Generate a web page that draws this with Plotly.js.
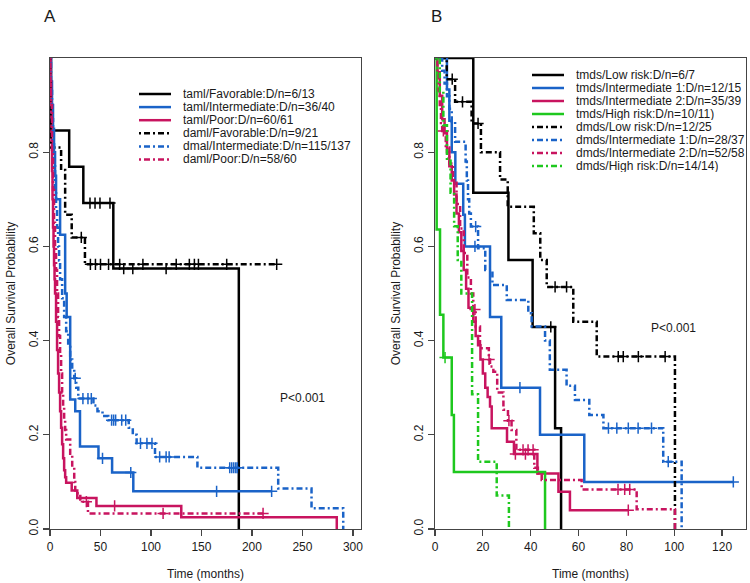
<!DOCTYPE html>
<html><head><meta charset="utf-8">
<script src="https://cdn.plot.ly/plotly-3.0.1.min.js"></script>
<style>html,body{margin:0;padding:0;background:#fff}#chart{width:750px;height:583px}</style>
</head><body><div id="chart"></div>
<script>
// ---------- Panel A data ----------
const namesA = ["taml/Favorable:D/n=6/13","taml/Intermediate:D/n=36/40","taml/Poor:D/n=60/61",
  "daml/Favorable:D/n=9/21","dmal/Intermediate:D/n=115/137","daml/Poor:D/n=58/60"];

const tamlFavT = [0, 1, 19, 33, 62.7, 187];
const tamlFavS = [1, 0.846, 0.769, 0.692, 0.553, 0];
const tamlFavC = [39.6, 44.6, 49.5, 59.4, 73, 82, 115];

const tamlIntT = [0,1,2,3,4,5,6,10,15,16.5,20,25,29.7,48,61.5,82.5,219.5];
const tamlIntS = [1,0.95,0.9,0.85,0.8,0.75,0.7,0.625,0.5,0.45,0.275,0.25,0.175,0.15,0.12,0.08,0.08];
const tamlIntC = [52, 80, 165, 219.5];

const tamlPoorT = [0,0.5,1,1.5,2,2.5,3,3.5,4,4.5,5,6,7,8,9,10,11,12,13,14,15,16,21.5,27,46,130,284];
const tamlPoorS = [1,0.95,0.88,0.82,0.76,0.7,0.64,0.6,0.56,0.53,0.5,0.44,0.38,0.33,0.29,0.25,0.215,0.18,0.15,0.125,0.11,0.098,0.082,0.066,0.049,0.025,0];
const tamlPoorC = [64];

const damlFavT = [0,0.5,11,15,21.5,34.6,224.5];
const damlFavS = [1,0.81,0.762,0.667,0.619,0.562,0.562];
const damlFavC = [31,40,45,50,58,69,92,125,138,143,147,175,224.5];

const dmalIntT = [0,1,2,3,4,5,6,7,8,9,10,12,14,16,18,20,22,24,26,28,43,47,52,57.7,78,82,85.8,104,146,226,259,290.4];
const dmalIntS = [1,0.93,0.87,0.82,0.77,0.72,0.68,0.64,0.6,0.57,0.53,0.49,0.45,0.42,0.39,0.36,0.34,0.32,0.30,0.277,0.262,0.25,0.24,0.231,0.215,0.2,0.182,0.153,0.13,0.086,0.044,0];
const dmalIntC = [25,32.6,37.6,40.9,61,63,65,71,75,89.6,96,101,108.6,115,118,178,180,182,184,185.5];

const damlPoorT = [0,0.5,1,2,3,4,5,6,7,8,9,10,11,12,13,14,15,16,20,22,24,25,30,37.6,211];
const damlPoorS = [1,0.95,0.9,0.8,0.72,0.65,0.6,0.55,0.5,0.45,0.41,0.37,0.33,0.29,0.26,0.23,0.21,0.19,0.16,0.13,0.1,0.076,0.058,0.033,0.033];
const damlPoorC = [36, 112, 211];

// ---------- Panel B data ----------
const namesB = ["tmds/Low risk:D/n=6/7","tmds/Intermediate 1:D/n=12/15","tmds/Intermediate 2:D/n=35/39",
  "tmds/High risk:D/n=10/11)","dmds/Low risk:D/n=12/25","dmds/Intermediate 1:D/n=28/37",
  "dmds/Intermediate 2:D/n=52/58","dmds/High risk:D/n=14/14)"];

const tmdsLowT = [0,16,30.7,40.8,50.2,52.7];
const tmdsLowS = [1,0.714,0.571,0.429,0.214,0];
const tmdsLowC = [48.4];

const tmdsInt1T = [0,5,6,7,8.5,11.8,12.5,23,27.7,43.9,62.4,124.7];
const tmdsInt1S = [1,0.933,0.867,0.8,0.733,0.667,0.6,0.45,0.30,0.20,0.10,0.10];
const tmdsInt1C = [16.7, 35.5, 124.7];

const tmdsInt2T = [0,1,2,3,4,5,6,7,8,9,10,11,12,13,14,16,17,18,19,20,21,22,23,23.7,30.1,33,42.8,51.6,56.4,80.8];
const tmdsInt2S = [1,0.97,0.92,0.87,0.84,0.80,0.77,0.74,0.71,0.67,0.63,0.59,0.55,0.51,0.47,0.44,0.41,0.39,0.36,0.33,0.30,0.28,0.26,0.214,0.185,0.159,0.118,0.079,0.04,0.04];
const tmdsInt2C = [33.6, 37.8, 80.8];

const tmdsHighT = [0,0.7,2.1,3.5,7,7.9,46];
const tmdsHighS = [1,0.636,0.455,0.364,0.242,0.121,0];
const tmdsHighC = [4.2];

const dmdsLowT = [0,4.9,8.4,15.3,19.2,27.2,30.4,41.3,44,46.7,57.8,67.6,100.3];
const dmdsLowS = [1,0.955,0.907,0.861,0.8,0.742,0.684,0.628,0.571,0.514,0.44,0.366,0];
const dmdsLowC = [7.2, 11.5, 18, 50.2, 55, 76.6, 78.7, 85, 96.2];

const dmdsInt1T = [0,3,4,5,6,7,8.4,12.8,13.3,13.8,14.3,15,18,21,24,30,39,40.4,46,48,55,58.5,64.5,70.4,95.4,103.1];
const dmdsInt1S = [1,0.973,0.946,0.919,0.892,0.865,0.822,0.78,0.74,0.70,0.67,0.642,0.596,0.55,0.518,0.486,0.458,0.43,0.40,0.338,0.304,0.274,0.242,0.214,0.143,0];
const dmdsInt1C = [17, 72.5, 76, 80.8, 84.9, 90.5, 97.5];

const dmdsInt2T = [0,1,1.5,2,2.5,3,4.5,6,7.5,9,10.5,12,13.5,15,16,17,18.8,22.5,23,24.4,26,28.6,30.5,32,34,41.5,43,44.6,61.3,84.3,100.3];
const dmdsInt2S = [1,0.966,0.931,0.897,0.862,0.845,0.81,0.776,0.741,0.69,0.638,0.586,0.534,0.5,0.466,0.43,0.384,0.36,0.345,0.334,0.29,0.253,0.23,0.21,0.168,0.13,0.118,0.104,0.084,0.042,0];
const dmdsInt2C = [3.5, 16.7, 22.6, 30.9, 36.8, 38.9, 41, 76.5, 79.3, 81.4];

const dmdsHighT = [0,2,3.5,5,6.5,8,9.5,11,15.5,18,25.8,30.9];
const dmdsHighS = [1,0.929,0.857,0.786,0.714,0.643,0.571,0.5,0.286,0.143,0.071,0];
const dmdsHighC = [];

// tick labels
const xTicksA = [0,50,100,150,200,250,300];
const xTicksB = [0,20,40,60,80,100,120];
const yTicks = [0,0.2,0.4,0.6,0.8];
const yTickText = ["0.0","0.2","0.4","0.6","0.8"];

// ---------- styles ----------
const BLACK = "#000000", BLUE = "#1a63c8", RED = "#c8145f", GREEN = "#1ec81e";
const DASH = "2px,3px,6px,3px";

const curvesA = [
  {t: tamlFavT, s: tamlFavS, c: tamlFavC, col: BLACK, dash: "solid"},
  {t: tamlIntT, s: tamlIntS, c: tamlIntC, col: BLUE, dash: "solid"},
  {t: tamlPoorT, s: tamlPoorS, c: tamlPoorC, col: RED, dash: "solid"},
  {t: damlFavT, s: damlFavS, c: damlFavC, col: BLACK, dash: DASH},
  {t: dmalIntT, s: dmalIntS, c: dmalIntC, col: BLUE, dash: DASH},
  {t: damlPoorT, s: damlPoorS, c: damlPoorC, col: RED, dash: DASH}
];
const curvesB = [
  {t: tmdsLowT, s: tmdsLowS, c: tmdsLowC, col: BLACK, dash: "solid"},
  {t: tmdsInt1T, s: tmdsInt1S, c: tmdsInt1C, col: BLUE, dash: "solid"},
  {t: tmdsInt2T, s: tmdsInt2S, c: tmdsInt2C, col: RED, dash: "solid"},
  {t: tmdsHighT, s: tmdsHighS, c: tmdsHighC, col: GREEN, dash: "solid"},
  {t: dmdsLowT, s: dmdsLowS, c: dmdsLowC, col: BLACK, dash: DASH},
  {t: dmdsInt1T, s: dmdsInt1S, c: dmdsInt1C, col: BLUE, dash: DASH},
  {t: dmdsInt2T, s: dmdsInt2S, c: dmdsInt2C, col: RED, dash: DASH},
  {t: dmdsHighT, s: dmdsHighS, c: dmdsHighC, col: GREEN, dash: DASH}
];

function survAt(T, S, t) {
  let v = 1;
  for (let i = 0; i < T.length; i++) { if (T[i] <= t) v = S[i]; }
  return v;
}

const traces = [];
function addCurves(curves, names, xa, ya) {
  curves.forEach((cv, i) => {
    traces.push({
      type: "scatter", mode: "lines", x: cv.t, y: cv.s, name: names[i],
      xaxis: xa, yaxis: ya, showlegend: false, hoverinfo: "skip",
      line: {shape: "hv", color: cv.col, width: 2.5, dash: cv.dash}
    });
    if (cv.c.length) {
      traces.push({
        type: "scatter", mode: "markers", x: cv.c, y: cv.c.map(t => survAt(cv.t, cv.s, t)),
        xaxis: xa, yaxis: ya, showlegend: false, hoverinfo: "skip",
        marker: {symbol: "cross-thin", size: 8, color: cv.col, line: {color: cv.col, width: 1.5}}
      });
    }
  });
}
addCurves(curvesA, namesA, "x", "y");
addCurves(curvesB, namesB, "x2", "y2");

// ---------- layout ----------
const W = 750, TOP = 58, BOT = 529;
const px = v => v / W;
const py = v => (BOT - v) / (BOT - TOP);
const FONT = "Liberation Sans, Arial, sans-serif";
const TXT = "#1a1a1a";

const shapes = [], annotations = [];
function addLegend(curves, names, x0, x1, xText, y0, step) {
  curves.forEach((cv, i) => {
    const y = y0 + i * step;
    shapes.push({type: "line", xref: "paper", yref: "paper", x0: px(x0), x1: px(x1), y0: py(y), y1: py(y),
      line: {color: cv.col, width: 2.5, dash: cv.dash}});
    annotations.push({xref: "paper", yref: "paper", x: px(xText), y: py(y), text: names[i],
      showarrow: false, xanchor: "left", yanchor: "middle", height: 12, borderpad: 0,
      font: {size: 12, color: TXT}});
  });
}
addLegend(curvesA, namesA, 139, 171, 182, 94, 13.1);
addLegend(curvesB, namesB, 532, 564, 575, 75, 13.0);

annotations.push({xref: "x", yref: "y", x: 250, y: 0.278, text: "P<0.001", showarrow: false,
  xanchor: "center", yanchor: "middle", font: {size: 12, color: TXT}});
annotations.push({xref: "x2", yref: "y2", x: 99.6, y: 0.426, text: "P<0.001", showarrow: false,
  xanchor: "center", yanchor: "middle", font: {size: 12, color: TXT}});
annotations.push({xref: "paper", yref: "paper", x: px(50), y: py(16), text: "A", showarrow: false,
  xanchor: "center", yanchor: "middle", font: {size: 17, color: TXT}});
annotations.push({xref: "paper", yref: "paper", x: px(436), y: py(16), text: "B", showarrow: false,
  xanchor: "center", yanchor: "middle", font: {size: 17, color: TXT}});

function xAxis(domain, range, ticks, anchor) {
  return {domain: domain, range: range, anchor: anchor, tickvals: ticks, ticktext: ticks.map(String),
    showline: true, mirror: true, linecolor: "#444", linewidth: 1.3, ticks: "outside", ticklen: 6,
    tickcolor: "#444", tickwidth: 1.2, showgrid: false, zeroline: false, fixedrange: true,
    tickfont: {size: 12, color: TXT},
    title: {text: "Time (months)", font: {size: 12, color: TXT}, standoff: 17}};
}
function yAxis(anchor) {
  return {domain: [0, 1], range: [0, 1], anchor: anchor, tickvals: yTicks, ticktext: yTickText,
    tickangle: -90, showline: true, mirror: true, linecolor: "#444", linewidth: 1.3, ticks: "outside",
    ticklen: 6, tickcolor: "#444", tickwidth: 1.2, showgrid: false, zeroline: false, fixedrange: true,
    tickfont: {size: 12, color: TXT},
    title: {text: "Overall Survival Probability", font: {size: 12, color: TXT}, standoff: 8}};
}

const layout = {
  width: 750, height: 583, paper_bgcolor: "#fff", plot_bgcolor: "#fff",
  margin: {l: 0, r: 0, t: TOP, b: 583 - BOT},
  font: {family: FONT, color: TXT},
  showlegend: false,
  xaxis: xAxis([px(50), px(361)], [0, 308], xTicksA, "y"),
  yaxis: yAxis("x"),
  xaxis2: xAxis([px(435), px(746)], [0, 130], xTicksB, "y2"),
  yaxis2: yAxis("x2"),
  shapes: shapes, annotations: annotations
};

Plotly.newPlot("chart", traces, layout, {displayModeBar: false, staticPlot: true});
</script></body></html>
